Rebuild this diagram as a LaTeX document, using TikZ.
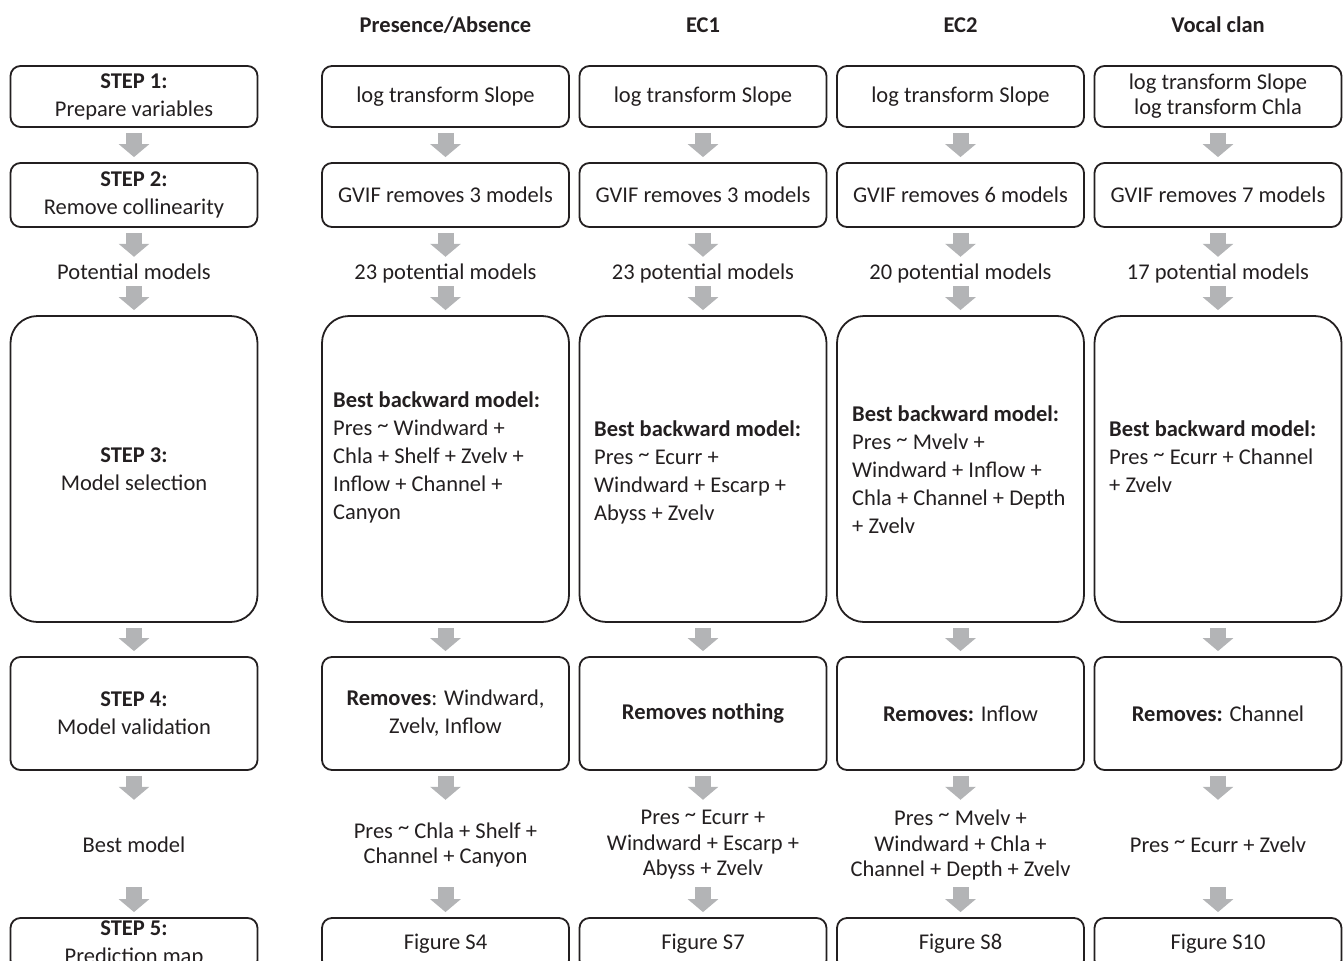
\documentclass[tikz,border=0pt]{standalone}
\usepackage{fontspec}
\setmainfont{Carlito}
\usetikzlibrary{arrows.meta}
\definecolor{ink}{HTML}{231F20}
\definecolor{arr}{HTML}{B3B4B6}
\newcommand{\tl}{\raisebox{0.35ex}{\textasciitilde}}
\begin{document}
\begin{tikzpicture}[x=1pt,y=-1pt,
  font=\fontsize{22.5}{28}\selectfont, text=ink,
  box/.style={draw=ink, line width=1.8pt, rounded corners=10pt, minimum width=247pt, inner sep=0pt, align=center},
  bigbox/.style={box, rounded corners=27pt, minimum height=306pt},
  head/.style={font=\fontsize{22.5}{28}\selectfont\bfseries, inner sep=0pt},
  pot/.style={inner sep=0pt, text height=17pt, text depth=2pt},
  best/.style={inner sep=0pt, minimum height=77pt, align=center, font=\fontsize{22.5}{25.5}\selectfont},
  bigtxt/.style={inner sep=0pt, anchor=north west, align=left},
  barrow/.style={draw=arr, line width=16pt, -{Triangle[width=30pt,length=13pt]}, shorten <=5pt, shorten >=5pt}
]
\useasboundingbox (0,0) rectangle (1344,961);
\clip (0,0) rectangle (1344,961);

% headers
\node[head] (h1) at (445.5,25) {Presence/Absence};
\node[head] (h2) at (703,25) {EC1};
\node[head] (h3) at (960.5,25) {EC2};
\node[head] (h4) at (1218,25) {Vocal clan};

% row 1
\node[box, minimum height=61pt] (a0) at (134,96.5) {\textbf{STEP 1:}\\Prepare variables};
\node[box, minimum height=61pt] (a1) at (445.5,96.5) {log transform Slope};
\node[box, minimum height=61pt] (a2) at (703,96.5) {log transform Slope};
\node[box, minimum height=61pt] (a3) at (960.5,96.5) {log transform Slope};
\node[box, minimum height=61pt, font=\fontsize{22.5}{25}\selectfont] (a4) at (1218,96.5) {log transform Slope\\log transform Chla};

% row 2
\node[box, minimum height=64pt] (b0) at (134,195) {\textbf{STEP 2:}\\Remove collinearity};
\node[box, minimum height=64pt] (b1) at (445.5,195) {GVIF removes 3 models};
\node[box, minimum height=64pt] (b2) at (703,195) {GVIF removes 3 models};
\node[box, minimum height=64pt] (b3) at (960.5,195) {GVIF removes 6 models};
\node[box, minimum height=64pt] (b4) at (1218,195) {GVIF removes 7 models};

% potential models
\node[pot] (c0) at (134,271.5) {Potential models};
\node[pot] (c1) at (445.5,271.5) {23 potential models};
\node[pot] (c2) at (703,271.5) {23 potential models};
\node[pot] (c3) at (960.5,271.5) {20 potential models};
\node[pot] (c4) at (1218,271.5) {17 potential models};

% row 3
\node[bigbox] (d0) at (134,469) {\textbf{STEP 3:}\\Model selection};
\node[bigbox] (d1) at (445.5,469) {};
\node[bigbox] (d2) at (703,469) {};
\node[bigbox] (d3) at (960.5,469) {};
\node[bigbox] (d4) at (1218,469) {};
\node[bigtxt] (t1) at (333,392) {\textbf{Best backward model:}\\Pres \tl{} Windward +\\Chla + Shelf + Zvelv +\\Inflow + Channel +\\Canyon};
\node[bigtxt] (t2) at (594,421) {\textbf{Best backward model:}\\Pres \tl{} Ecurr +\\Windward + Escarp +\\Abyss + Zvelv};
\node[bigtxt] (t3) at (852,406) {\textbf{Best backward model:}\\Pres \tl{} Mvelv +\\Windward + Inflow +\\Chla + Channel + Depth\\+ Zvelv};
\node[bigtxt] (t4) at (1109,421) {\textbf{Best backward model:}\\Pres \tl{} Ecurr + Channel\\+ Zvelv};

% row 4
\node[box, minimum height=113pt] (e0) at (134,713.5) {\textbf{STEP 4:}\\Model validation};
\node[box, minimum height=113pt] (e1) at (445.5,713.5) {\textbf{Removes}: Windward,\\Zvelv, Inflow};
\node[box, minimum height=113pt] (e2) at (703,713.5) {\textbf{Removes nothing}};
\node[box, minimum height=113pt] (e3) at (960.5,713.5) {\textbf{Removes:} Inflow};
\node[box, minimum height=113pt] (e4) at (1218,713.5) {\textbf{Removes:} Channel};

% best model
\node[best] (f0) at (134,845) {Best model};
\node[best] (f1) at (445.5,845) {Pres \tl{} Chla + Shelf +\\Channel + Canyon};
\node[best] (f2) at (703,845) {Pres \tl{} Ecurr +\\Windward + Escarp +\\Abyss + Zvelv};
\node[best] (f3) at (960.5,845) {Pres \tl{} Mvelv +\\Windward + Chla +\\Channel + Depth + Zvelv};
\node[best] (f4) at (1218,845) {Pres \tl{} Ecurr + Zvelv};

% row 5
\node[box, minimum height=52pt] (g0) at (134,944) {\textbf{STEP 5:}\\Prediction map};
\node[box, minimum height=52pt] (g1) at (445.5,944) {Figure S4};
\node[box, minimum height=52pt] (g2) at (703,944) {Figure S7};
\node[box, minimum height=52pt] (g3) at (960.5,944) {Figure S8};
\node[box, minimum height=52pt] (g4) at (1218,944) {Figure S10};

% arrows
\foreach \i in {0,...,4}{
  \draw[barrow] (a\i) -- (b\i);
  \draw[barrow] (b\i) -- (c\i);
  \draw[barrow] (c\i) -- (d\i);
  \draw[barrow] (d\i) -- (e\i);
  \draw[barrow, shorten >=6.5pt] (e\i) -- (f\i);
  \draw[barrow, shorten <=3.5pt] (f\i) -- (g\i);
}
\end{tikzpicture}
\end{document}
